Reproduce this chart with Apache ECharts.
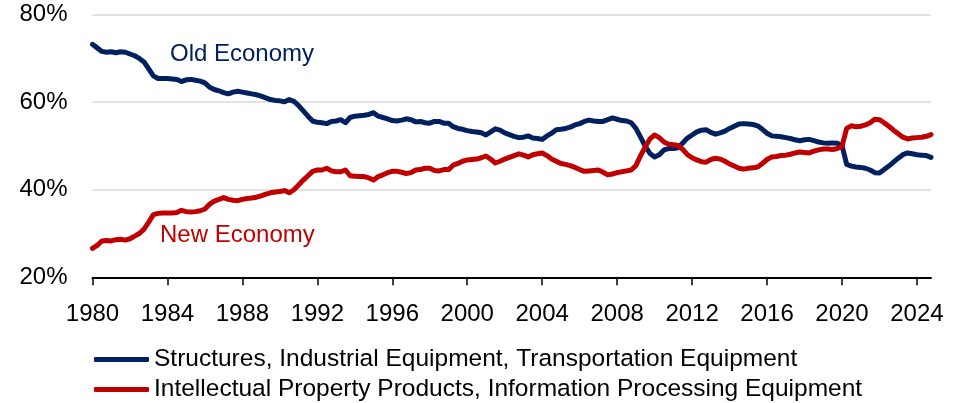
<!DOCTYPE html>
<html>
<head>
<meta charset="utf-8">
<script src="https://cdn.jsdelivr.net/npm/echarts@6/dist/echarts.min.js"></script>
<style>
  html, body { margin: 0; padding: 0; background: #fff; }
  #chart { width: 954px; height: 403px; }
</style>
</head>
<body>
<div id="chart"></div>
<script>
// quarterly shares, 1980Q1 .. 2024Q4 (%), 4 values per row = one year
const oldEconomy = [
  73.2, 72.4, 71.6, 71.4,  // 1980
  71.5, 71.3, 71.5, 71.4,
  71.0, 70.6, 70.0, 69.2,
  67.6, 66.0, 65.4, 65.4,
  65.4, 65.3, 65.2, 64.7,  // 1984
  65.1, 65.2, 65.0, 64.8,
  64.4, 63.4, 62.9, 62.6,
  62.2, 61.9, 62.3, 62.5,
  62.3, 62.1, 61.9, 61.7,  // 1988
  61.4, 61.0, 60.6, 60.4,
  60.3, 60.1, 60.6, 60.2,
  59.2, 58.0, 56.8, 55.7,
  55.4, 55.3, 55.1, 55.6,  // 1992
  55.7, 56.0, 55.3, 56.5,
  56.8, 56.9, 57.0, 57.2,
  57.6, 56.8, 56.5, 56.2,
  55.8, 55.7, 55.9, 56.2,  // 1996
  56.0, 55.5, 55.6, 55.3,
  55.2, 55.6, 55.6, 55.2,
  55.2, 54.4, 54.0, 53.8,
  53.5, 53.3, 53.2, 53.0,  // 2000
  52.5, 53.2, 53.9, 53.6,
  53.0, 52.6, 52.2, 51.9,
  52.0, 52.3, 51.8, 51.7,
  51.5, 52.3, 52.9, 53.7,  // 2004
  53.8, 54.0, 54.3, 54.8,
  55.1, 55.6, 55.9, 55.7,
  55.6, 55.6, 56.0, 56.4,
  56.1, 55.8, 55.7, 55.3,  // 2008
  54.0, 52.0, 49.9, 48.3,
  47.5, 48.0, 49.1, 49.4,
  49.4, 49.6, 50.7, 51.8,
  52.5, 53.2, 53.6, 53.7,  // 2012
  53.1, 52.7, 53.0, 53.4,
  54.0, 54.5, 55.0, 55.1,
  55.0, 54.9, 54.6, 53.8,
  52.9, 52.3, 52.2, 52.1,  // 2016
  51.9, 51.7, 51.4, 51.2,
  51.4, 51.5, 51.2, 50.9,
  50.7, 50.6, 50.7, 50.6,
  50.1, 45.8, 45.4, 45.2,  // 2020
  45.1, 44.9, 44.5, 43.9,
  43.8, 44.6, 45.4, 46.3,
  47.2, 48.0, 48.4, 48.2,
  48.0, 47.9, 47.8, 47.4   // 2024
];

const newEconomy = [
  26.6, 27.3, 28.3, 28.4,  // 1980
  28.3, 28.6, 28.7, 28.5,
  28.8, 29.4, 30.0, 31.0,
  32.6, 34.3, 34.6, 34.7,
  34.7, 34.7, 34.8, 35.3,  // 1984
  35.0, 34.9, 35.0, 35.2,
  35.6, 36.7, 37.4, 37.8,
  38.2, 37.8, 37.6, 37.5,
  37.8, 38.0, 38.1, 38.3,  // 1988
  38.6, 39.0, 39.3, 39.5,
  39.6, 39.8, 39.3, 40.0,
  41.1, 42.2, 43.2, 44.2,
  44.5, 44.5, 44.9, 44.3,  // 1992
  44.1, 44.1, 44.5, 43.2,
  43.1, 43.0, 43.0, 42.7,
  42.2, 43.0, 43.4, 43.9,
  44.2, 44.2, 44.0, 43.7,  // 1996
  43.9, 44.5, 44.6, 44.9,
  44.9, 44.4, 44.3, 44.6,
  44.6, 45.6, 46.0, 46.5,
  46.8, 46.9, 47.0, 47.3,  // 2000
  47.7, 47.0, 46.1, 46.5,
  47.0, 47.4, 47.8, 48.2,
  47.9, 47.5, 48.0, 48.2,
  48.4, 47.8, 47.0, 46.5,  // 2004
  46.0, 45.8, 45.5, 45.1,
  44.6, 44.2, 44.3, 44.4,
  44.5, 44.0, 43.4, 43.6,
  43.9, 44.1, 44.3, 44.5,  // 2008
  45.5, 47.8, 49.8, 51.6,
  52.5, 51.9, 50.9, 50.4,
  50.3, 50.1, 49.2, 48.0,
  47.3, 46.8, 46.4, 46.3,  // 2012
  46.9, 47.2, 47.0, 46.5,
  45.9, 45.4, 44.9, 44.7,
  44.9, 45.0, 45.2, 46.0,
  46.9, 47.5, 47.6, 47.8,  // 2016
  47.9, 48.1, 48.4, 48.6,
  48.5, 48.4, 48.8, 49.1,
  49.3, 49.3, 49.2, 49.4,
  49.9, 54.0, 54.6, 54.4,  // 2020
  54.5, 54.8, 55.3, 56.1,
  56.0, 55.3, 54.5, 53.6,
  52.8, 52.0, 51.6, 51.8,
  51.9, 52.0, 52.2, 52.6   // 2024
];

const seriesNames = [
  'Structures, Industrial Equipment, Transportation Equipment',
  'Intellectual Property Products, Information Processing Equipment'
];
const yTicks = [20, 40, 60, 80];
const firstYear = 1980;
const lastYear = 2024;
const labelEvery = 16; // one label every 4 years

// quarter categories
const quarters = [];
for (let y = firstYear; y <= lastYear; y++) {
  for (let q = 1; q <= 4; q++) quarters.push(y + ' Q' + q);
}

const FONT = '"Liberation Sans", Arial, sans-serif';
const NAVY = '#002060';
const RED = '#c00000';

const chart = echarts.init(document.getElementById('chart'), null, {renderer: 'canvas'});

// one legend per row, Excel style
const legendRow = (name, top) => ({
  orient: 'vertical',
  left: 89,
  top: top,
  itemWidth: 55,
  itemHeight: 5,
  icon: 'roundRect',
  textStyle: {fontFamily: FONT, fontSize: 24.5, color: '#000'},
  data: [name]
});

chart.setOption({
  animation: false,
  grid: {left: 92.5, right: 23, top: 14.6, bottom: 125.7, containLabel: false},
  legend: [
    legendRow(seriesNames[0], 342),
    legendRow(seriesNames[1], 372)
  ],
  xAxis: {
    type: 'category',
    data: quarters,
    boundaryGap: false,
    axisLine: {lineStyle: {color: '#000', width: 2}},
    axisTick: {
      length: 8,
      lineStyle: {color: '#000', width: 1.5},
      interval: (i) => i % labelEvery === 0
    },
    axisLabel: {
      interval: (i) => i % labelEvery === 0,
      formatter: (v) => v.slice(0, 4),
      margin: 25,
      fontFamily: FONT,
      fontSize: 24,
      color: '#000'
    },
    splitLine: {show: false}
  },
  yAxis: {
    type: 'value',
    min: yTicks[0],
    max: yTicks[yTicks.length - 1],
    interval: 20,
    axisLine: {show: false},
    axisTick: {show: false},
    axisLabel: {
      formatter: '{value}%',
      margin: 25,
      fontFamily: FONT,
      fontSize: 24,
      color: '#000'
    },
    splitLine: {lineStyle: {color: '#d9d9d9', width: 1.5}}
  },
  graphic: [
    {
      type: 'text', left: 170, top: 42,
      style: {text: 'Old Economy', fill: NAVY, font: '24px ' + FONT}
    },
    {
      type: 'text', left: 160, top: 223,
      style: {text: 'New Economy', fill: RED, font: '24px ' + FONT}
    }
  ],
  series: [
    {
      name: seriesNames[0],
      type: 'line',
      data: oldEconomy,
      symbol: 'none',
      color: NAVY,
      lineStyle: {width: 5, color: NAVY, cap: 'round', join: 'round'}
    },
    {
      name: seriesNames[1],
      type: 'line',
      data: newEconomy,
      symbol: 'none',
      color: RED,
      lineStyle: {width: 5, color: RED, cap: 'round', join: 'round'}
    }
  ]
});
</script>
</body>
</html>
